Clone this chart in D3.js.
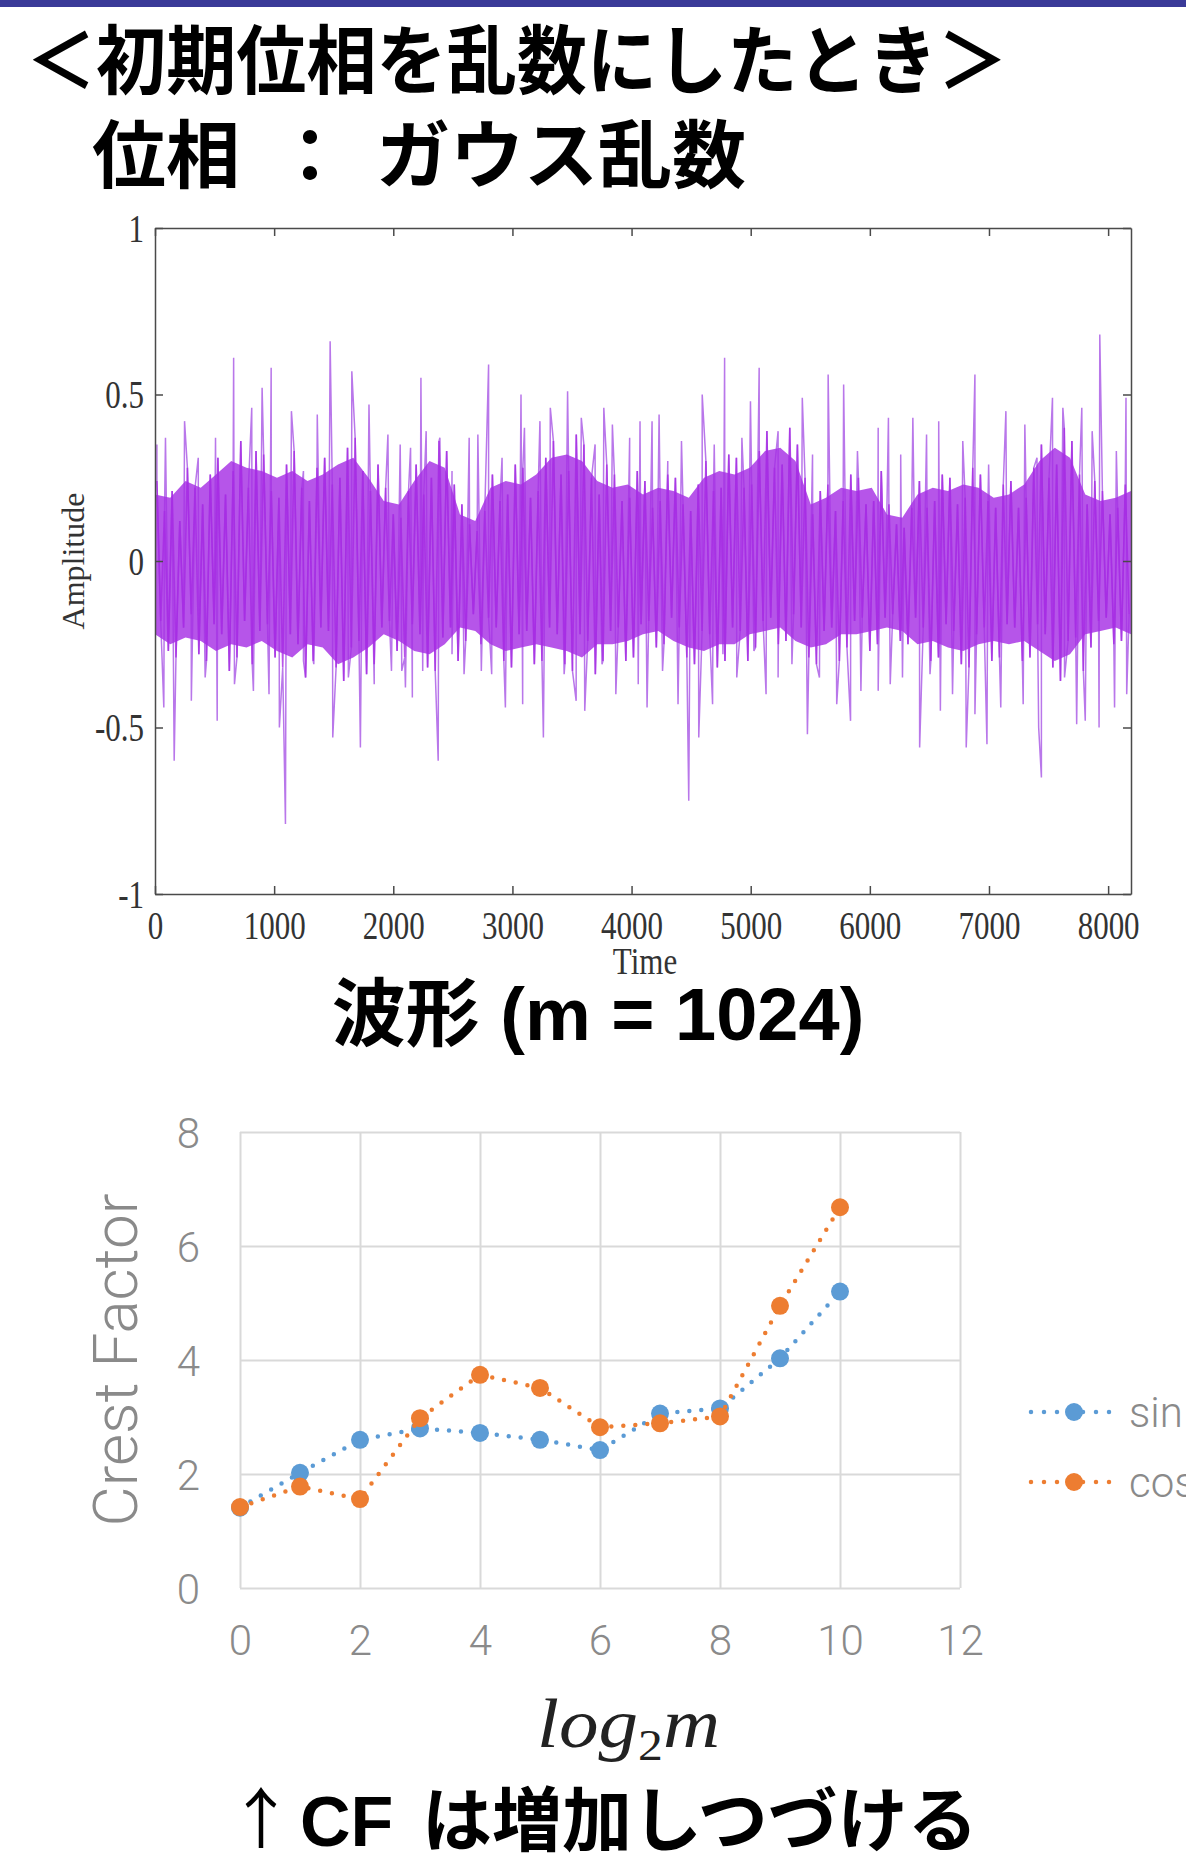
<!DOCTYPE html>
<html lang="ja">
  <head>
    <meta charset="UTF-8"/>
    <title>初期位相を乱数にしたとき</title>
    <script src="https://d3js.org/d3.v7.min.js"></script>
    <style>
      body { margin: 0; background: #fff; }
      svg { display: block; }
      .jp { font-family: 'Liberation Sans', 'Noto Sans CJK JP', sans-serif; font-weight: bold; fill: #000; }
      .serif { font-family: 'Liberation Serif', serif; fill: #333; }
      .light { font-family: Roboto, sans-serif; font-weight: 300; fill: #8a8a8a; }
    </style>
  </head>
  <body>
    <script>

      // ---- waveform (m = 1024) ----
      // tall peaks above the dense band: [time, amplitude]
      const spikesHi = [
        [16,.35],[88,.37],[248,.42],[363,.31],[508,.37],[660,.61],[812,.46],[899,.52],[975,.58],[1145,.45],
        [1246,.27],[1362,.44],[1470,.66],[1652,.57],[1796,.47],[1955,.38],[2058,.35],[2145,.34],[2232,.55],[2276,.39],
        [2391,.37],[2493,.27],[2637,.37],[2710,.38],[2800,.59],[2913,.31],[3072,.50],[3101,.40],[3231,.42],[3318,.46],
        [3463,.51],[3578,.43],[3694,.35],[3767,.46],[3839,.41],[3984,.37],[4071,.42],[4172,.42],[4231,.44],[4304,.30],
        [4419,.36],[4593,.50],[4694,.35],[4781,.61],[4926,.37],[4998,.48],[5071,.58],[5230,.39],[5433,.49],[5519,.32],
        [5650,.56],[5780,.53],[5896,.33],[6070,.40],[6156,.43],[6259,.32],[6361,.43],[6476,.38],[6578,.42],[6780,.36],
        [6882,.56],[6997,.29],[7142,.45],[7301,.41],[7403,.31],[7533,.49],[7620,.46],[7779,.46],[7866,.39],[7930,.68],
        [8069,.33],[8150,.49]
      ]
      // deep troughs below the dense band
      const spikesLo = [
        [74,-.44],[161,-.60],[305,-.42],[421,-.35],[522,-.48],[667,-.37],[826,-.39],[957,-.40],[1044,-.50],[1095,-.79],
        [1246,-.30],[1333,-.31],[1492,-.53],[1623,-.35],[1724,-.56],[1840,-.37],[1985,-.33],[2071,-.33],[2102,-.38],[2160,-.41],
        [2247,-.33],[2377,-.60],[2493,-.28],[2594,-.34],[2739,-.33],[2826,-.34],[2941,-.44],[3086,-.43],[3260,-.53],[3434,-.34],
        [3535,-.42],[3607,-.45],[3752,-.31],[3868,-.40],[4056,-.37],[4130,-.44],[4260,-.33],[4390,-.43],[4480,-.72],[4564,-.53],
        [4680,-.43],[4767,-.28],[4883,-.35],[5027,-.27],[5129,-.40],[5230,-.35],[5346,-.31],[5476,-.52],[5577,-.35],[5722,-.43],
        [5838,-.48],[5925,-.39],[6070,-.39],[6171,-.37],[6274,-.35],[6418,-.56],[6505,-.34],[6592,-.45],[6694,-.40],[6809,-.56],
        [6882,-.46],[6983,-.55],[7099,-.44],[7287,-.43],[7417,-.50],[7440,-.65],[7634,-.35],[7736,-.49],[7808,-.48],[7924,-.50],
        [8054,-.44],[8156,-.40]
      ]
      // dense band, upper and lower edge every 128 samples
      const coreStep = 128
      const coreHi = [
        .20,.19,.24,.22,.26,.30,.28,.27,.25,.27,.24,.26,.29,.31,.25,.18,
        .17,.24,.30,.28,.14,.12,.22,.24,.23,.26,.31,.32,.30,.24,.22,.23,
        .20,.22,.21,.19,.25,.27,.26,.28,.33,.34,.30,.17,.19,.22,.21,.22,
        .14,.13,.20,.22,.21,.23,.22,.19,.20,.23,.30,.34,.31,.20,.18,.19,.21
      ]
      const coreLo = [
        -.22,-.25,-.23,-.24,-.27,-.25,-.26,-.24,-.27,-.29,-.25,-.26,-.31,-.29,-.26,-.22,
        -.24,-.27,-.28,-.25,-.20,-.21,-.25,-.27,-.26,-.25,-.26,-.27,-.29,-.25,-.25,-.24,
        -.22,-.21,-.24,-.26,-.27,-.25,-.25,-.22,-.21,-.20,-.24,-.26,-.25,-.22,-.22,-.21,
        -.20,-.21,-.25,-.24,-.26,-.27,-.25,-.24,-.25,-.24,-.27,-.30,-.28,-.22,-.21,-.20,-.22
      ]
      // swings inside the band, one every 32 samples starting at 16
      const midStep = 32
      const midSwing = [
        .24,-.18,.15,-.27, .21,-.29,.12,-.20, .28,-.16,.22,-.28, .17,-.30,.26,-.19,
        .31,-.22,.20,-.33, .27,-.29,.36,-.18, .22,-.31,.33,-.21, .32,-.19,.21,-.29,
        .19,-.32,.29,-.22, .33,-.25,.22,-.35, .18,-.30,.28,-.20, .31,-.21,.23,-.32,
        .25,-.36,.34,-.26, .37,-.24,.27,-.34, .21,-.31,.29,-.20, .22,-.18,.14,-.27,
        .13,-.29,.21,-.19, .29,-.22,.20,-.32, .25,-.33,.36,-.23, .33,-.20,.23,-.30,
        .17,-.24,.11,-.16, .09,-.25,.15,-.17, .26,-.20,.18,-.30, .20,-.32,.29,-.22,
        .28,-.21,.19,-.31, .21,-.30,.31,-.20, .36,-.22,.26,-.31, .27,-.33,.38,-.22,
        .35,-.24,.25,-.34, .20,-.30,.29,-.21, .26,-.20,.18,-.30, .19,-.29,.27,-.19,
        .24,-.18,.16,-.26, .18,-.25,.26,-.17, .25,-.20,.17,-.29, .15,-.31,.23,-.21,
        .30,-.22,.21,-.32, .22,-.30,.32,-.20, .31,-.21,.22,-.30, .23,-.26,.33,-.18,
        .39,-.17,.28,-.25, .29,-.24,.40,-.16, .35,-.20,.25,-.29, .14,-.31,.21,-.21,
        .23,-.20,.15,-.30, .18,-.26,.26,-.18, .25,-.17,.17,-.27, .18,-.25,.27,-.17,
        .17,-.16,.11,-.24, .10,-.25,.16,-.17, .24,-.20,.16,-.30, .18,-.29,.26,-.19,
        .25,-.21,.17,-.31, .19,-.32,.28,-.22, .26,-.20,.18,-.30, .16,-.29,.23,-.19,
        .24,-.20,.16,-.30, .19,-.29,.28,-.19, .35,-.22,.25,-.32, .29,-.36,.40,-.24,
        .36,-.23,.26,-.33, .17,-.26,.24,-.18, .21,-.17,.14,-.25, .16,-.24,.23,-.16
      ]
      const timeTicks = [0, 1000, 2000, 3000, 4000, 5000, 6000, 7000, 8000]
      const ampTicks = [-1, -0.5, 0, 0.5, 1]

      // ---- crest factor vs log2 m ----
      const log2m = [0, 1, 2, 3, 4, 5, 6, 7, 8, 9, 10]
      const cfSin = [1.41, 2.02, 2.60, 2.80, 2.72, 2.60, 2.42, 3.06, 3.15, 4.03, 5.20]
      const cfCos = [1.42, 1.78, 1.56, 2.98, 3.74, 3.51, 2.82, 2.89, 3.01, 4.95, 6.68]
      const cfXTicks = [0, 2, 4, 6, 8, 10, 12]
      const cfYTicks = [0, 2, 4, 6, 8]
      const seriesNames = ["sin", "cos"]
      const seriesColors = ["#5b9bd5", "#ed7d31"]

      const svg = d3.select("body").append("svg")
          .attr("width", 1186)
          .attr("height", 1869)

      // header band
      svg.append("rect")
          .attr("x", 0).attr("y", 0)
          .attr("width", 1186).attr("height", 7)
          .attr("fill", "#3a3a98")

      // headings
      svg.append("text").attr("class", "jp")
          .attr("font-size", 75)
          .attr("transform", "translate(26,88) scale(0.935,1)")
          .text("＜初期位相を乱数にしたとき＞")
      svg.append("text").attr("class", "jp")
          .attr("x", 92).attr("y", 182)
          .attr("font-size", 74)
          .text("位相")
      svg.append("text").attr("class", "jp")
          .attr("x", 310).attr("y", 182)
          .attr("font-size", 74)
          .attr("text-anchor", "middle")
          .text("：")
      svg.append("text").attr("class", "jp")
          .attr("x", 376).attr("y", 182)
          .attr("font-size", 74)
          .text("ガウス乱数")

      // ================= waveform =================
      const x = d3.scaleLinear().domain([0, 8192]).range([155, 1131])
      const y = d3.scaleLinear().domain([-1, 1]).range([894, 228])

      svg.append("clipPath").attr("id", "plotclip")
        .append("rect")
          .attr("x", 155).attr("y", 228)
          .attr("width", 976).attr("height", 666)

      const wave = svg.append("g").attr("clip-path", "url(#plotclip)")

      const mids = midSwing.map((v, i) => [midStep / 2 + i * midStep, v])
      const allPeaks = spikesHi.concat(spikesLo, mids).sort((a, b) => a[0] - b[0])
      const waveLine = d3.line().x(d => x(d[0])).y(d => y(d[1]))

      // full trace in the light tone: the tall peaks show in it
      wave.append("path")
          .datum(allPeaks)
          .attr("fill", "none")
          .attr("stroke", "#b977ea")
          .attr("stroke-width", 1.5)
          .attr("d", waveLine)

      // dense band
      wave.append("path")
          .datum(coreHi.map((v, i) => ({t: i * coreStep, hi: v, lo: coreLo[i]})))
          .attr("fill", "#a630e4")
          .attr("fill-opacity", 0.82)
          .attr("d", d3.area().x(d => x(d.t)).y0(d => y(d.lo)).y1(d => y(d.hi)))

      // swings inside the band roughen its edges
      wave.append("path")
          .datum(mids)
          .attr("fill", "none")
          .attr("stroke", "#a62ae3")
          .attr("stroke-width", 1.6)
          .attr("stroke-opacity", 0.8)
          .attr("d", waveLine)

      // box axes, ticks pointing inwards
      const styleAxis = g => g
          .call(g => g.selectAll(".domain").attr("stroke", "#4a4a4a").attr("stroke-width", 1.5))
          .call(g => g.selectAll(".tick line").attr("stroke", "#4a4a4a").attr("stroke-width", 1.5))

      svg.append("g")
          .attr("transform", `translate(0,${y(-1)})`)
          .call(d3.axisBottom(x).tickValues(timeTicks).tickSizeInner(-8).tickSizeOuter(0)
              .tickFormat(d => String(d)))
          .call(styleAxis)
          .call(g => g.selectAll(".tick text")
              .attr("class", "serif")
              .attr("font-size", 31)
              .attr("y", null).attr("dy", null)
              .attr("transform", "translate(0,45) scale(1,1.3)"))

      svg.append("g")
          .attr("transform", `translate(${x(0)},0)`)
          .call(d3.axisLeft(y).tickValues(ampTicks).tickSizeInner(-8).tickSizeOuter(0)
              .tickFormat(d => String(d)))
          .call(styleAxis)
          .call(g => g.selectAll(".tick text")
              .attr("class", "serif")
              .attr("font-size", 31)
              .attr("x", null).attr("dy", null)
              .attr("transform", "translate(-11,13) scale(1,1.3)"))

      svg.append("g")
          .attr("transform", `translate(0,${y(1)})`)
          .call(d3.axisTop(x).tickValues(timeTicks).tickSizeInner(-8).tickSizeOuter(0).tickFormat(""))
          .call(styleAxis)

      svg.append("g")
          .attr("transform", `translate(${x(8192)},0)`)
          .call(d3.axisRight(y).tickValues(ampTicks).tickSizeInner(-8).tickSizeOuter(0).tickFormat(""))
          .call(styleAxis)

      svg.append("text").attr("class", "serif")
          .attr("font-size", 31)
          .attr("text-anchor", "middle")
          .attr("transform", "translate(645,974) scale(1,1.25)")
          .text("Time")

      svg.append("text").attr("class", "serif")
          .attr("font-size", 32)
          .attr("text-anchor", "middle")
          .attr("transform", "translate(84,561) rotate(-90)")
          .text("Amplitude")

      svg.append("text").attr("class", "jp")
          .attr("x", 598).attr("y", 1040)
          .attr("font-size", 74)
          .attr("text-anchor", "middle")
          .text("波形 (m = 1024)")

      // ================= crest factor =================
      const x2 = d3.scaleLinear().domain([0, 12]).range([240, 960])
      const y2 = d3.scaleLinear().domain([0, 8]).range([1588, 1132])

      svg.append("g")
          .attr("transform", `translate(0,${y2(0)})`)
          .call(d3.axisBottom(x2).tickValues(cfXTicks).tickSize(-(y2(0) - y2(8))))
          .call(g => g.select(".domain").remove())
          .call(g => g.selectAll(".tick line").attr("stroke", "#d9d9d9").attr("stroke-width", 2))
          .call(g => g.selectAll(".tick text")
              .attr("class", "light").attr("font-size", 42)
              .attr("y", 67).attr("dy", null))

      svg.append("g")
          .attr("transform", `translate(${x2(0)},0)`)
          .call(d3.axisLeft(y2).tickValues(cfYTicks).tickSize(-(x2(12) - x2(0))))
          .call(g => g.select(".domain").remove())
          .call(g => g.selectAll(".tick line").attr("stroke", "#d9d9d9").attr("stroke-width", 2))
          .call(g => g.selectAll(".tick text")
              .attr("class", "light").attr("font-size", 42)
              .attr("x", -40).attr("y", 15).attr("dy", null))

      const cfLine = d3.line().x(d => x2(d[0])).y(d => y2(d[1]))

      const series = [cfSin, cfCos].map((vals, i) => ({
        name: seriesNames[i],
        color: seriesColors[i],
        points: log2m.map((m, j) => [m, vals[j]])
      }))

      series.forEach(s => {
        svg.append("path")
            .datum(s.points)
            .attr("fill", "none")
            .attr("stroke", s.color)
            .attr("stroke-width", 4.5)
            .attr("stroke-linecap", "round")
            .attr("stroke-dasharray", "0 12")
            .attr("d", cfLine)
        svg.append("g")
          .selectAll("circle")
          .data(s.points)
          .join("circle")
            .attr("cx", d => x2(d[0]))
            .attr("cy", d => y2(d[1]))
            .attr("r", 9)
            .attr("fill", s.color)
      })

      // legend, cut by the right edge as in the slide
      const legend = svg.append("g")
        .selectAll("g")
        .data(series)
        .join("g")
          .attr("transform", (d, i) => `translate(0,${1412 + i * 70})`)
      legend.append("line")
          .attr("x1", 1031).attr("x2", 1112)
          .attr("stroke", d => d.color)
          .attr("stroke-width", 4.5)
          .attr("stroke-linecap", "round")
          .attr("stroke-dasharray", "0 13")
      legend.append("circle")
          .attr("cx", 1074).attr("r", 9)
          .attr("fill", d => d.color)
      legend.append("text")
          .attr("class", "light")
          .attr("x", 1129).attr("y", 15)
          .attr("font-size", 42)
          .text(d => d.name)

      svg.append("text").attr("class", "light")
          .attr("font-size", 62)
          .attr("text-anchor", "middle")
          .attr("transform", `translate(137,${y2(4)}) rotate(-90)`)
          .text("Crest Factor")

      // x axis title: log2 m
      const mathLabel = svg.append("text")
          .attr("transform", "translate(537,1747) scale(1.13,1)")
          .attr("font-family", "'Liberation Serif', serif")
          .attr("font-style", "italic")
          .attr("font-size", 70)
          .attr("fill", "#222")
      mathLabel.append("tspan").text("log")
      mathLabel.append("tspan").attr("font-size", 44).attr("font-style", "normal").attr("dy", 13).text("2")
      mathLabel.append("tspan").attr("dy", -13).text("m")

      // caption
      svg.append("text")
          .attr("x", 261).attr("y", 1843)
          .attr("text-anchor", "middle")
          .attr("font-family", "'Noto Sans CJK JP', sans-serif")
          .attr("font-size", 66)
          .text("↑")
      svg.append("text").attr("class", "jp")
          .attr("x", 300).attr("y", 1846)
          .attr("font-size", 70)
          .text("CF")
      svg.append("text").attr("class", "jp")
          .attr("x", 422).attr("y", 1846)
          .attr("font-size", 70)
          .text("は増加しつづける")

    </script>
  </body>
</html>
